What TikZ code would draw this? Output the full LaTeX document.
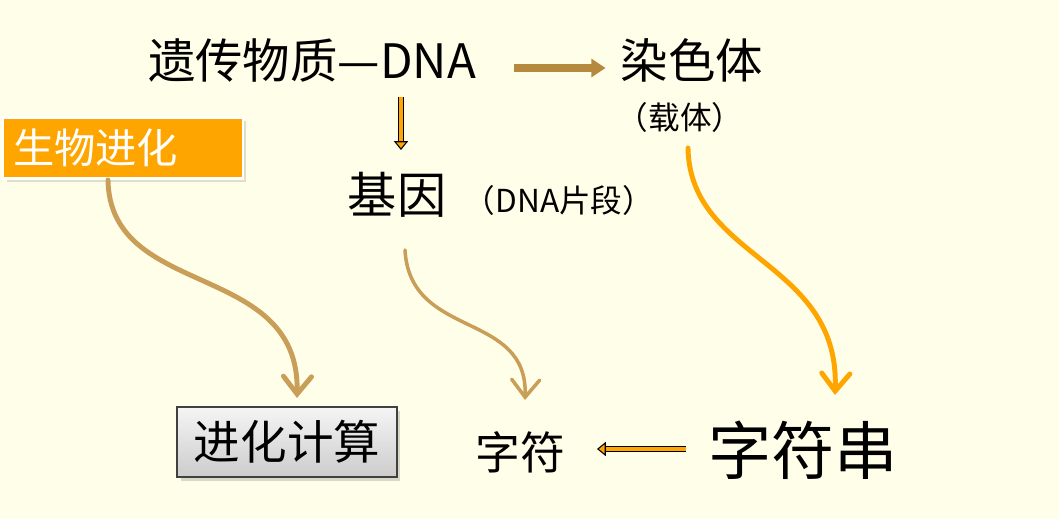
\documentclass[tikz,border=0pt]{standalone}
\usepackage{fontspec}
\setmainfont{Noto Sans CJK SC}
\usetikzlibrary{arrows.meta,shadows}
\definecolor{paper}{RGB}{255,254,232}
\definecolor{goldorange}{RGB}{255,165,0}
\definecolor{tan}{RGB}{201,158,88}
\definecolor{darktan}{RGB}{182,138,62}
\tikzset{
    bigtext/.style={
        font=\fontsize{27}{30}\selectfont,
        inner sep=0pt
    },
    smalltext/.style={
        font=\fontsize{18}{21}\selectfont,
        inner sep=0pt
    },
    orangebox/.style={
        rectangle,
        draw=white,
        line width=1.5pt,
        fill=goldorange,
        text=white,
        font=\fontsize{23.5}{27}\selectfont,
        minimum width=4.8cm,
        minimum height=1.22cm,
        inner xsep=0.2cm,
        text width=4.4cm,
        align=left,
        drop shadow={shadow xshift=2pt,shadow yshift=-2pt,opacity=0.25}
    },
    graybox/.style={
        rectangle,
        draw=black!75,
        line width=0.8pt,
        top color=gray!8,
        bottom color=gray!40,
        font=\fontsize{26.5}{30}\selectfont,
        minimum width=4.4cm,
        minimum height=1.4cm,
        drop shadow={shadow xshift=2pt,shadow yshift=-2pt,opacity=0.3}
    },
    curvearrow/.style={
        line cap=round,
        -{Straight Barb[length=10pt,width=16pt,line cap=round]}
    },
    outlinedarrow/.style={
        double=goldorange,
        double distance=2.2pt,
        draw=black,
        line width=0.6pt,
        -{Triangle[length=5pt,width=8pt,fill=goldorange]}
    }
}

\begin{document}
\begin{tikzpicture}[x=0.02cm, y=-0.02cm]
    \fill[paper] (0,0) rectangle (1059,519);
    \useasboundingbox (0,0) rectangle (1059,519);

    \node[bigtext] (dna) at (312,60) {遗传物质—DNA};
    \node[bigtext] (chromo) at (692,60) {染色体};
    \node[smalltext] (carrier) at (680,117) {（载体）};
    \node[bigtext, font=\fontsize{28}{32}\selectfont] (gene) at (397,195) {基因};
    \node[smalltext] (segment) at (559,200) {（DNA片段）};
    \node[orangebox] (evolution) at (123,148) {生物进化};
    \node[graybox] (evocomp) at (287,442) {进化计算};
    \node[bigtext, font=\fontsize{25.5}{29}\selectfont] (char) at (520,452) {字符};
    \node[bigtext, font=\fontsize{36}{40}\selectfont] (string) at (803,450) {字符串};

    \coordinate (evoout) at (108,180);
    \coordinate (evoin) at (297,398);
    \coordinate (geneout) at (405,250);
    \coordinate (charin) at (525,400);
    \coordinate (carrierout) at (688,148);
    \coordinate (stringin) at (835,395);

    \draw[darktan, line width=4.5pt, -{Triangle[length=8pt,width=10pt]}, shorten <=38pt*0.567, shorten >=15pt*0.567] (dna.east |- 0,68) -- (chromo.west |- 0,68);
    \draw[outlinedarrow] (401,97) -- (401,150);
    \draw[outlinedarrow] (string.west |- 0,449) ++(-22,0) -- (597,449);

    \draw[tan, line width=2.8pt, curvearrow] (evoout) .. controls (110,300) and (300,260) .. (evoin);
    \draw[tan, line width=2pt, curvearrow] (geneout) .. controls (410,340) and (528,310) .. (charin);
    \draw[goldorange, line width=2.8pt, curvearrow] (carrierout) .. controls (690,260) and (840,260) .. (stringin);
\end{tikzpicture}
\end{document}
